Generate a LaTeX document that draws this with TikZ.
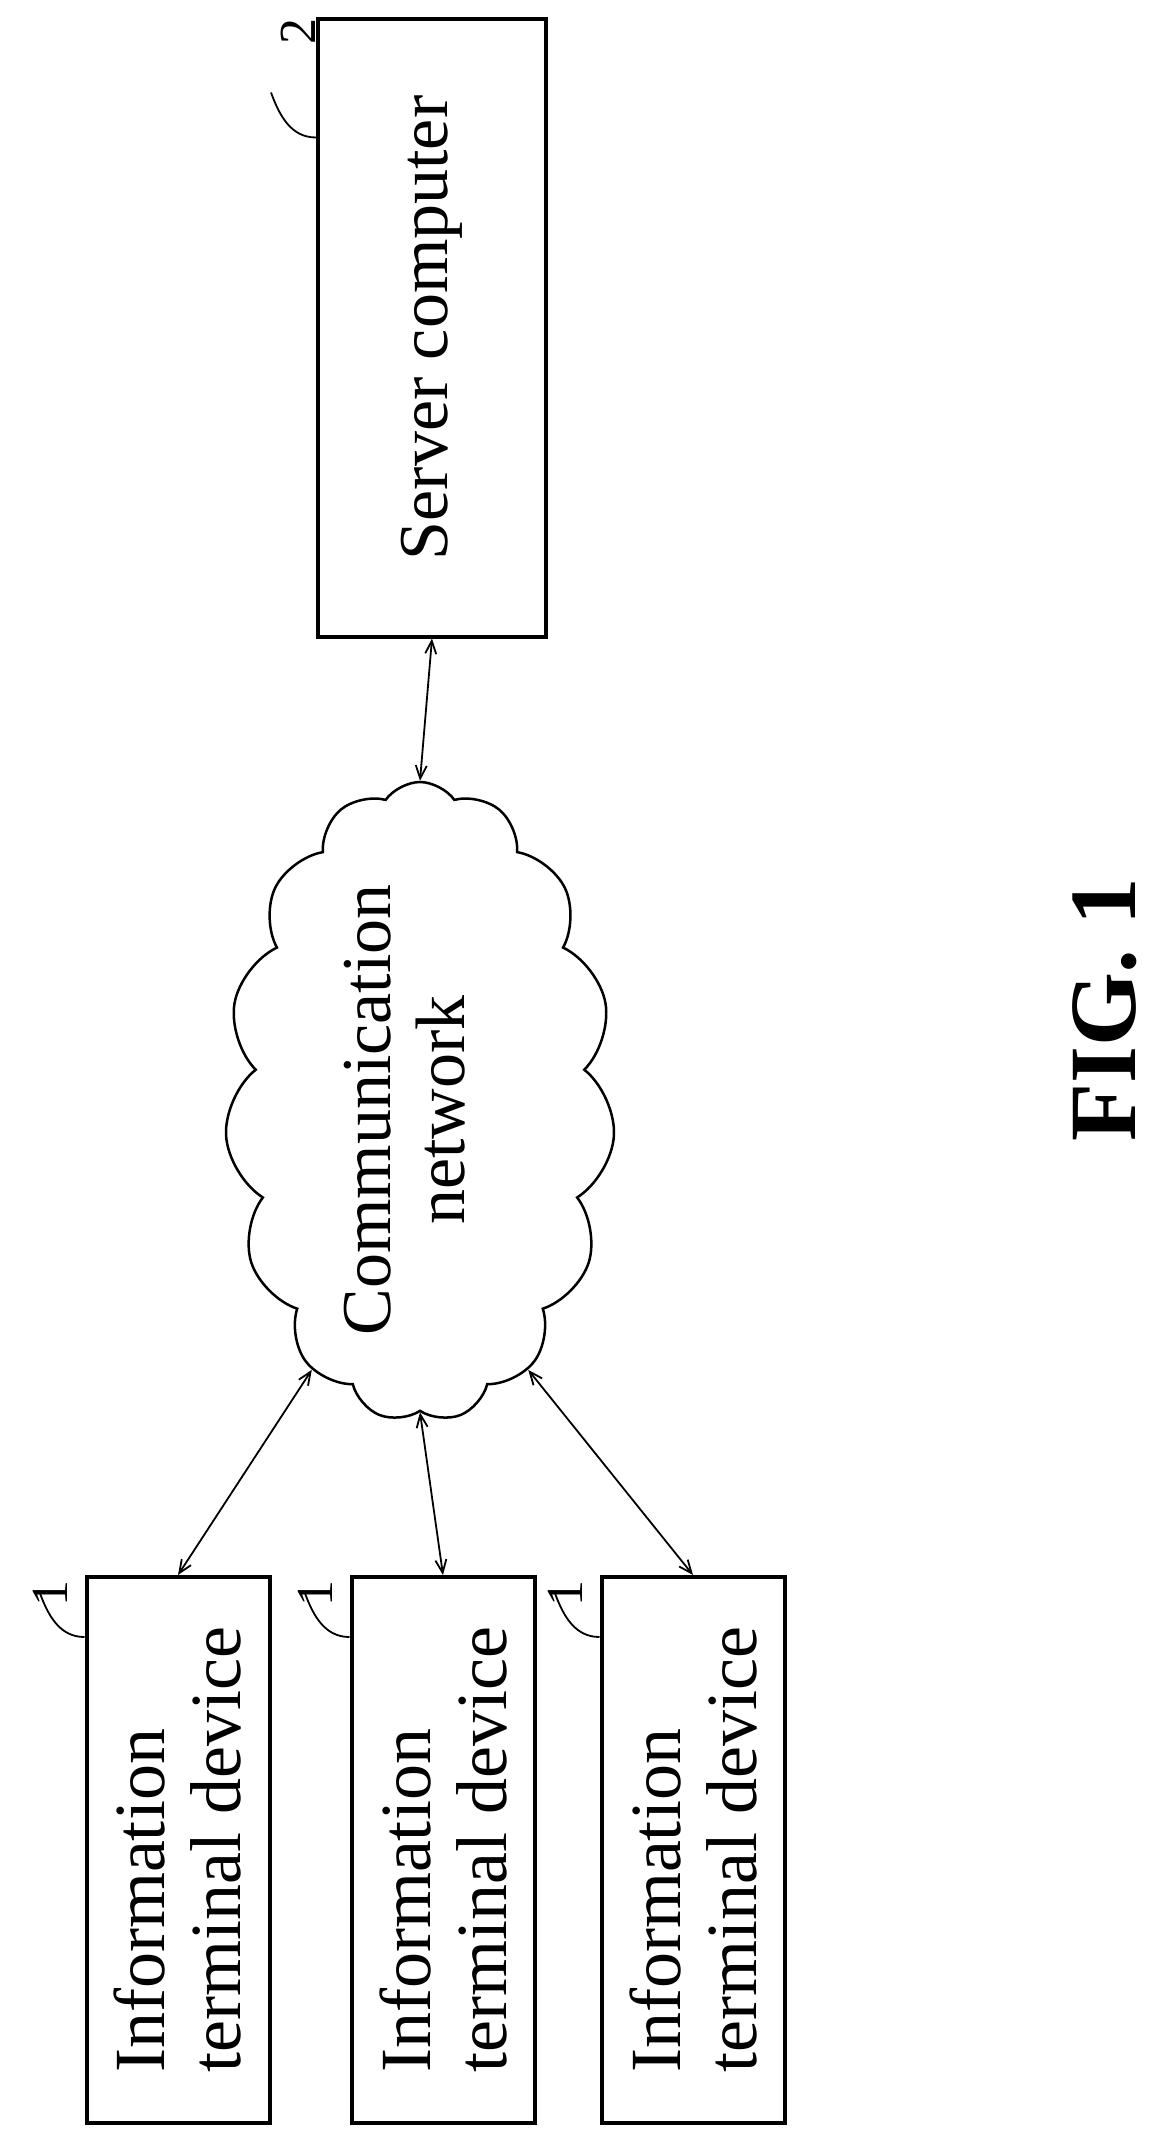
\documentclass[tikz,border=0pt]{standalone}
\usepackage{fontspec}
\setmainfont{Liberation Serif}
\usetikzlibrary{shapes.symbols,arrows.meta}
\begin{document}
\begin{tikzpicture}[x=1pt,y=-1pt,
  box/.style={draw,line width=4pt,inner sep=0pt},
  lbl/.style={rotate=90,font=\fontsize{70}{74}\selectfont,align=left},
  conn/.style={line width=1.8pt,{Straight Barb[length=13pt,width=11pt]}-{Straight Barb[length=13pt,width=11pt]}},
  lead/.style={line width=1.8pt},
  num/.style={rotate=90,font=\fontsize{52}{56}\selectfont}]
\useasboundingbox (0,0) rectangle (1167,2141);
% server
\node[box,minimum width=228pt,minimum height=617pt] (srv) at (432,328) {};
\node[lbl] (srvt) at (srv.center) {Server computer};
\draw[lead] (srv.north west)++(0,120) to[out=180,in=290] ++(-45,-45);
\node[num] (n2) at (298,32) {2};
% cloud
\node[cloud,draw,line width=2.5pt,cloud puffs=15,cloud puff arc=110,aspect=0.6,minimum width=390pt,minimum height=640pt,inner sep=0pt] (cl) at (420,1102) {};
\node[lbl,align=center] (clt) at (405,1110) {Communication\\network};
% terminals
\foreach \i/\x in {1/178,2/443,3/693}{
  \node[box,minimum width=183pt,minimum height=546pt] (b\i) at (\x,1850) {};
  \node[lbl,font=\fontsize{72}{76}\selectfont] (b\i t) at (b\i.center) {Information\\terminal device};
  \draw[lead] (b\i.north west)++(0,62) to[out=180,in=290] ++(-45,-45);
  \node[num] (n\i) at (\x-128,1593) {1};
}
\draw[conn] (srv.south) -- (cl.north);
\draw[conn] (cl.248) -- (b1.north);
\draw[conn] (cl.south) -- (b2.north);
\draw[conn] (cl.292) -- (b3.north);
\node[rotate=90,font=\bfseries\fontsize{95}{100}\selectfont] (fig) at (1105,1010) {FIG. 1};
\end{tikzpicture}
\end{document}
